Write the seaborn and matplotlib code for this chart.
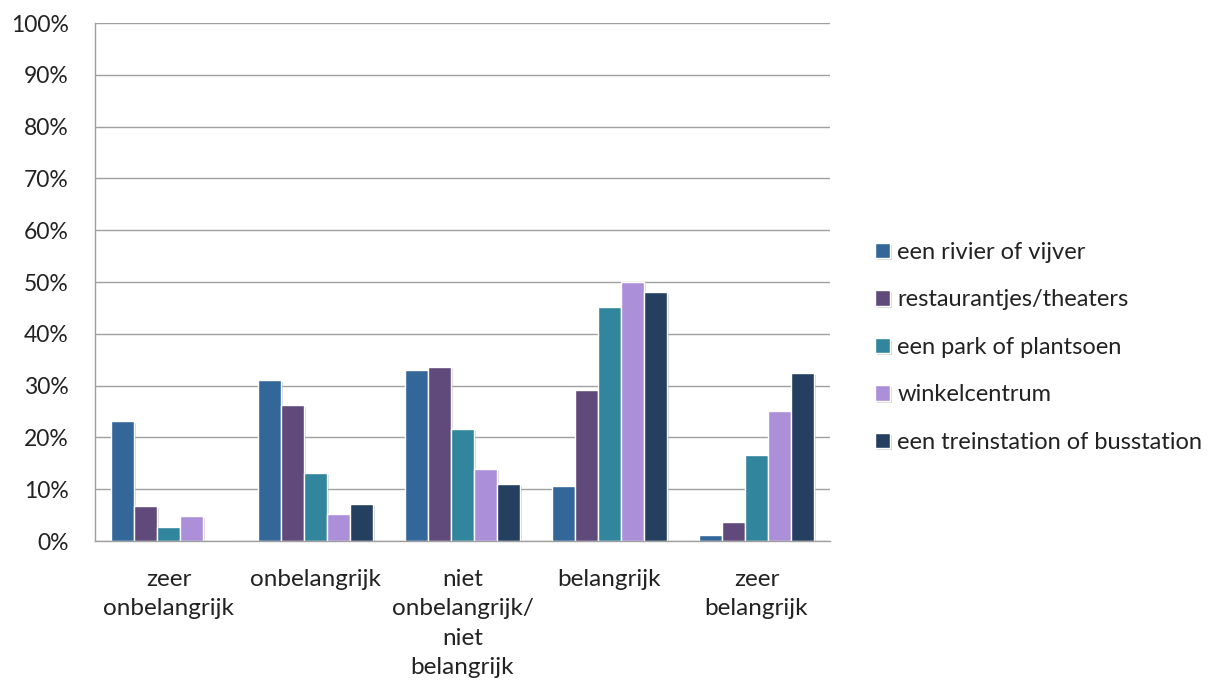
import matplotlib
matplotlib.use("Agg")
import matplotlib.pyplot as plt
import matplotlib.patheffects as pe
import seaborn as sns
import pandas as pd
import numpy as np

categories = ["zeer\nonbelangrijk", "onbelangrijk", "niet\nonbelangrijk/\nniet\nbelangrijk",
              "belangrijk", "zeer\nbelangrijk"]
series = ["een rivier of vijver", "restaurantjes/theaters", "een park of plantsoen",
          "winkelcentrum", "een treinstation of busstation"]

rivier = [23.2, 31.1, 33.0, 10.6, 1.2]
restaurants = [6.7, 26.3, 33.6, 29.2, 3.7]
park = [2.7, 13.1, 21.7, 45.2, 16.6]
winkel = [4.8, 5.2, 13.9, 50.0, 25.1]
station = [0.0, 7.1, 11.0, 48.1, 32.5]

colors = ["#33679A", "#604A7B", "#31859C", "#AB8FD9", "#243F60"]

values = [rivier, restaurants, park, winkel, station]
df = pd.DataFrame({
    "categorie": np.repeat([categories], len(series), axis=0).ravel(),
    "reeks": np.repeat(series, len(categories)),
    "waarde": np.concatenate(values),
})

sns.set_style("white")
plt.rcParams["font.family"] = ["Lato", "DejaVu Sans"]

fig = plt.figure(figsize=(12.15, 6.83), dpi=100)
ax = fig.add_axes([0.0782, 0.2079, 0.6049, 0.7584])

sns.barplot(data=df, x="categorie", y="waarde", hue="reeks", order=categories,
            hue_order=series, palette=colors, saturation=1, width=0.78,
            edgecolor="white", linewidth=1.0, ax=ax, legend=True)

for bar in ax.patches:
    bar.set_path_effects([pe.SimplePatchShadow(offset=(1.5, -1.5), shadow_rgbFace="#888888", alpha=0.35),
                          pe.Normal()])

ax.set_ylim(0, 100)
ax.set_xlim(-0.5, len(categories) - 0.5)
ax.set_yticks(np.arange(0, 101, 10))
ax.set_yticklabels([f"{v}%" for v in range(0, 101, 10)], fontsize=16.5, color="#222222")
ax.yaxis.grid(True, color="#A0A0A0", linewidth=1.0)
ax.set_axisbelow(True)
ax.tick_params(axis="y", length=9, width=1.0, color="#A0A0A0", pad=10)

ax.set_xticks(range(len(categories)))
ax.set_xticklabels(categories, fontsize=17.5, color="#222222", linespacing=1.5)
ax.tick_params(axis="x", length=0, pad=20)
ax.set_xticks(np.arange(-0.5, len(categories), 1.0), minor=True)
ax.tick_params(axis="x", which="minor", length=9, width=1.0, color="#A0A0A0")

ax.set_xlabel("")
ax.set_ylabel("")
for side in ["top", "right"]:
    ax.spines[side].set_visible(False)
for side in ["left", "bottom"]:
    ax.spines[side].set_color("#A0A0A0")
    ax.spines[side].set_linewidth(1.0)

handles, labels = ax.get_legend_handles_labels()
ax.legend_.remove()
fig.legend(handles, labels, loc="upper left", bbox_to_anchor=(0.703, 0.677),
           frameon=False, fontsize=17, handlelength=0.62, handleheight=0.62,
           handletextpad=0.3, labelspacing=1.12, labelcolor="#222222")

fig.savefig("out.png", dpi=100)
